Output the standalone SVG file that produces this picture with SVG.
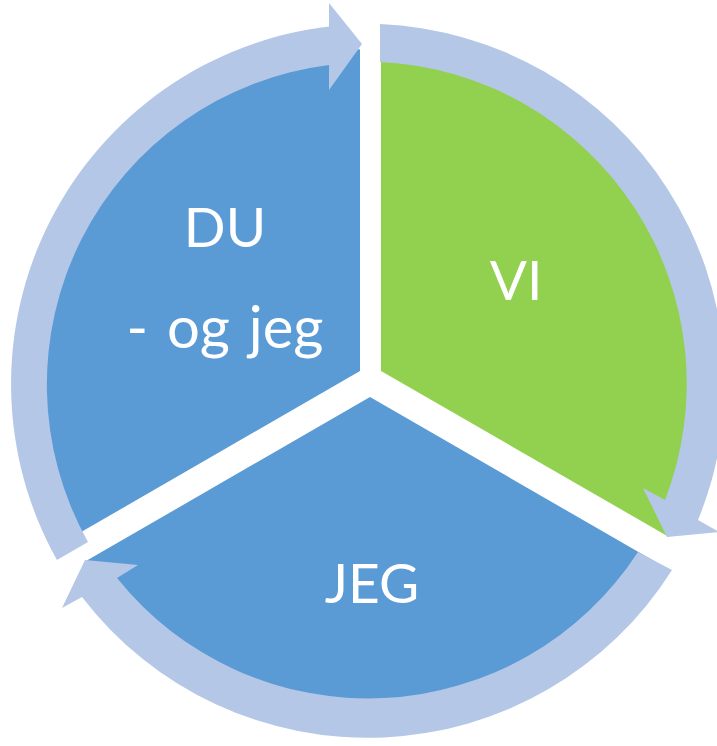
<svg xmlns="http://www.w3.org/2000/svg" width="717" height="746" viewBox="0 0 717 746">
  <style>
    .blue { fill: #5B9BD5; }
    .green { fill: #92D050; }
    .ring { fill: #B4C7E7; }
    .label { fill: #FFFFFF; font-family: Lato, "Open Sans", "Liberation Sans", sans-serif; font-size: 55px; text-anchor: middle; }
  </style>
  <rect width="717" height="746" fill="#FFFFFF"/>
  <g id="node-du">
    <path class="blue" d="M 360,371 L 360,49.2 A 335 335 0 0 0 72.9,536.8 Z"/>
    <text class="label" x="225" y="247">DU</text>
    <text class="label" x="225" y="348" style="font-size:58px;word-spacing:4px">- og jeg</text>
  </g>
  <g id="node-vi">
    <path class="green" d="M 381,371 L 381,49.2 A 335 335 0 0 1 669,537 Z"/>
    <text class="label" x="516" y="300">VI</text>
  </g>
  <g id="node-jeg">
    <path class="blue" d="M 370,397 L 655,561.6 A 335 335 0 0 1 86.4,560.8 Z"/>
    <text class="label" x="372" y="603">JEG</text>
  </g>
  <g id="connectors">
    <path class="ring" d="M 380,24 A 360 360 0 0 1 698,520 L 719,532 L 667,537 L 643,488 L 665,500 A 322 322 0 0 0 380,62 Z"/>
    <path class="ring" d="M 672,570 A 360 360 0 0 1 82,597 L 62,608 L 85,560 L 138,565 L 117,578 A 322 322 0 0 0 638,552 Z"/>
    <path class="ring" d="M 57,560 A 360 360 0 0 1 329,26.5 L 329,3 L 362,44 L 329,90 L 329,65 A 322 322 0 0 0 88,542 Z"/>
  </g>
</svg>
